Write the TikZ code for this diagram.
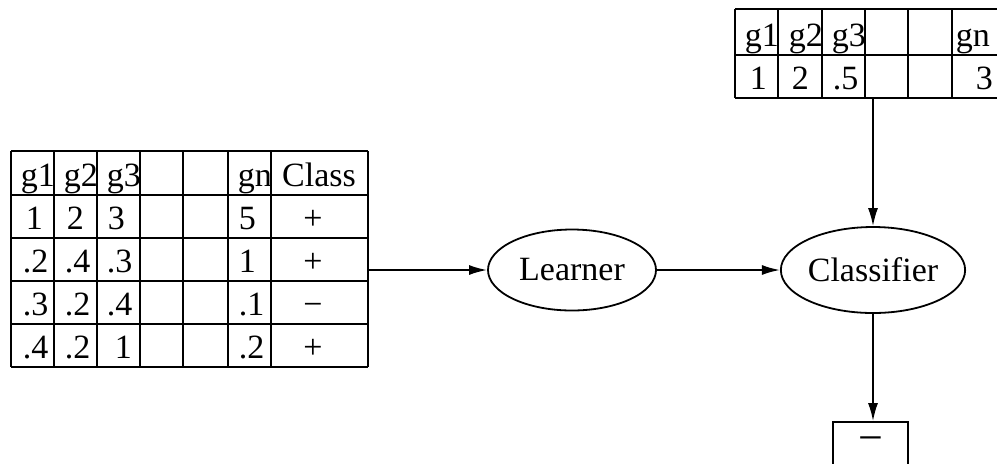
\documentclass[tikz,border=0pt]{standalone}
\usepackage{fontspec}
\setmainfont{Liberation Serif}
\usetikzlibrary{arrows.meta,positioning,fit,shapes.geometric}

\begin{document}
\begin{tikzpicture}[>={Latex[length=9pt,width=5pt]}, x=0.5pt, y=-0.5pt, line width=0.9pt]
  \tikzstyle{entry}=[anchor=base west, inner sep=0pt, font=\fontsize{17}{20}\selectfont]
  \tikzstyle{sign}=[anchor=base, inner sep=0pt, font=\fontsize{17}{20}\selectfont]
  \tikzstyle{oval}=[draw, ellipse, inner sep=0pt, font=\fontsize{17}{20}\selectfont]
  \useasboundingbox (0,0) rectangle (997,463);

  % training examples: genes g1..gn plus class label
  \foreach \x/\t [count=\c] in {20/g1, 63/g2, 106/g3, 237/gn} \node[entry] (h\c) at (\x,186) {\t};
  \node[sign] (hc) at (319,186) {Class};
  \foreach \x/\t [count=\c] in {25/1, 66/2, 107/3, 238/5} \node[entry] (a\c) at (\x,229) {\t};
  \foreach \x/\t [count=\c] in {22/.2, 64/.4, 106/.3, 238/1} \node[entry] (b\c) at (\x,272) {\t};
  \foreach \x/\t [count=\c] in {22/.3, 64/.2, 106/.4, 238/.1} \node[entry] (c\c) at (\x,315) {\t};
  \foreach \x/\t [count=\c] in {22/.4, 64/.2, 114/1, 238/.2} \node[entry] (d\c) at (\x,358) {\t};
  \foreach \y/\t [count=\r] in {229/+, 272/+, 315/−, 358/+} \node[sign] (s\r) at (313,\y) {\t};
  \foreach \x in {11,54,97,140,183,228,271,368} \draw (\x,151) -- (\x,367);
  \foreach \y in {151,195,238,281,324,367} \draw (11,\y) -- (368,\y);
  \node[fit={(11,151) (368,367)}, inner sep=0pt] (train) {};

  % new example to be classified
  \foreach \x/\t [count=\c] in {744/g1, 788/g2, 831/g3, 955/gn} \node[entry] (qh\c) at (\x,46) {\t};
  \foreach \x/\t [count=\c] in {749/1, 791/2, 832/.5, 975/3} \node[entry] (qv\c) at (\x,89) {\t};
  \foreach \x in {735,778,822,865,908,952,1004} \draw (\x,9) -- (\x,98);
  \foreach \y in {9,55,98} \draw (735,\y) -- (1004,\y);
  \node[fit={(735,9) (1004,98)}, inner sep=0pt] (query) {};

  \node[oval, minimum width=84pt, minimum height=40.5pt] (learner) at (572,270) {Learner};
  \node[oval, minimum width=80pt, minimum height=43pt] (clf) at (873,270) {Classifier};
  \node[draw, inner sep=0pt, minimum width=37.5pt, minimum height=23pt, font=\fontsize{22}{24}\selectfont] (out) at (870.5,445) {−};

  \draw[->] (train.east |- learner) -- (learner);
  \draw[->] (learner) -- (clf);
  \draw[->] (clf |- query.south) -- (clf);
  \draw[->] (clf) -- (clf |- out.north);
\end{tikzpicture}
\end{document}
